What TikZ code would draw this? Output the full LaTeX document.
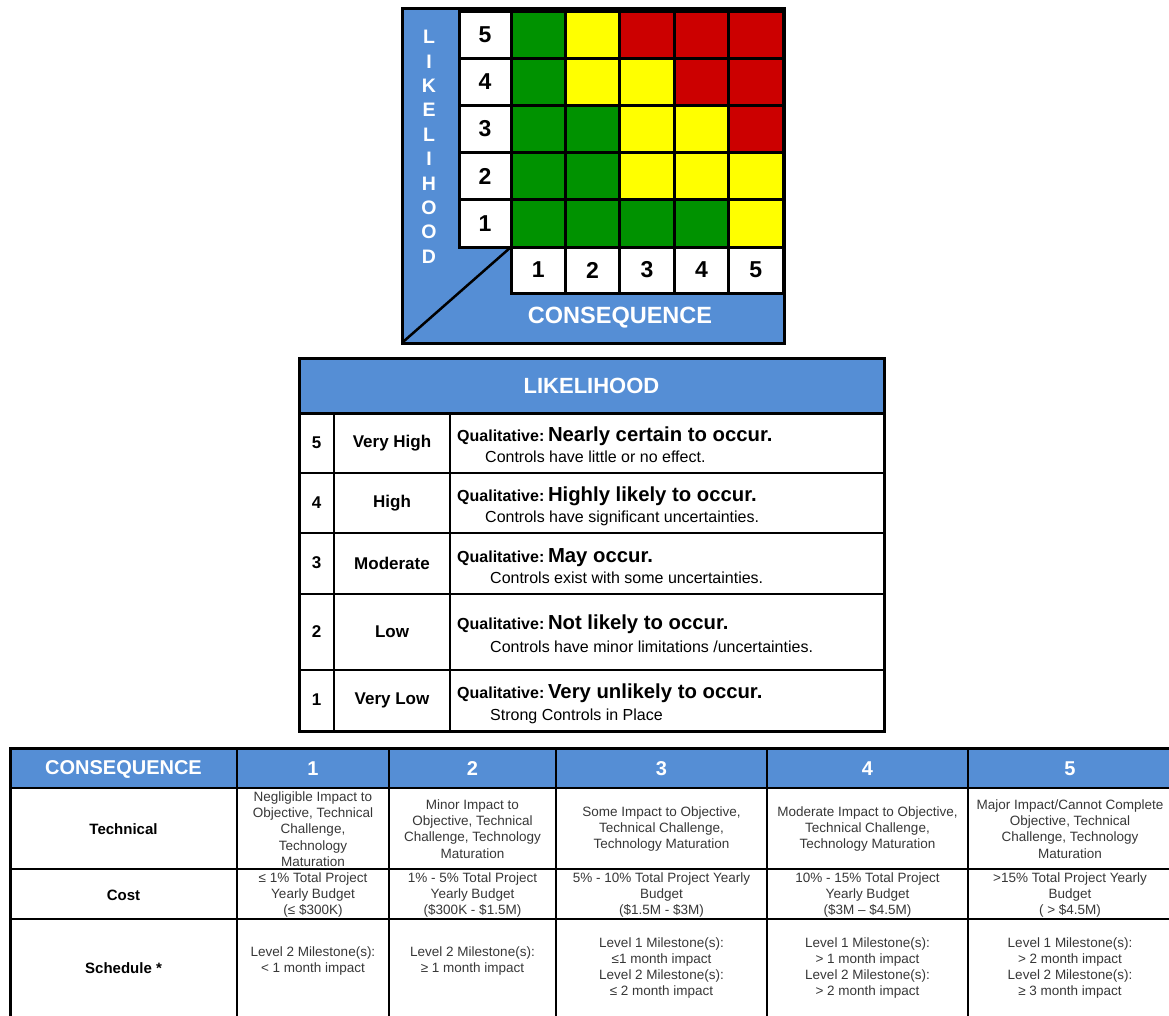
\documentclass[tikz,border=0pt]{standalone}
\usepackage{fontspec}
\setmainfont{Liberation Sans}
\definecolor{hdrblue}{RGB}{85,142,213}
\definecolor{rgreen}{RGB}{0,146,0}
\definecolor{ryellow}{RGB}{255,255,0}
\definecolor{rred}{RGB}{204,0,0}
\definecolor{celltext}{RGB}{55,55,55}
\begin{document}
\begin{tikzpicture}[x=1pt,y=-1pt,
  mxcell/.style={draw=black,line width=3pt,inner sep=0pt,outer sep=0pt},
  rownum/.style={mxcell,fill=white,minimum width=52pt,minimum height=47.2pt,font=\fontsize{23}{23}\selectfont\bfseries},
  colnum/.style={mxcell,fill=white,minimum width=54.4pt,minimum height=46pt,font=\fontsize{23}{23}\selectfont\bfseries},
  risk/.style={mxcell,minimum width=54.4pt,minimum height=47.2pt},
  vlet/.style={text=white,font=\fontsize{19.5}{19.5}\selectfont\bfseries,inner sep=0pt},
  hdr/.style={text=white,font=\fontsize{20}{20}\selectfont\bfseries,inner sep=0pt},
  lnum/.style={font=\fontsize{17}{17}\selectfont\bfseries,inner sep=0pt},
  qual/.style={anchor=base west,inner sep=0pt},
  qsub/.style={anchor=base west,inner sep=0pt,font=\fontsize{16}{16}\selectfont},
  rowlab/.style={font=\fontsize{15}{15}\selectfont\bfseries,inner sep=0pt},
  ctext/.style={align=center,font=\fontsize{13.5}{16.3}\selectfont,text=celltext,inner sep=0pt}]
\useasboundingbox (0,0) rectangle (1169,1015);

\draw[line width=3pt,fill=hdrblue] (402,8) rectangle (784,343);
\foreach \r in {1,...,5}
  \node[rownum] (lrow\r) at (485,{34.6+47.2*(5-\r)}) {\r};
\foreach \r/\cl in {5/{rgreen,ryellow,rred,rred,rred},4/{rgreen,ryellow,ryellow,rred,rred},
    3/{rgreen,rgreen,ryellow,ryellow,rred},2/{rgreen,rgreen,ryellow,ryellow,ryellow},
    1/{rgreen,rgreen,rgreen,rgreen,ryellow}}
  \foreach \fc [count=\c] in \cl
    \node[risk,fill=\fc] (m\r\c) at ({538.2+54.4*(\c-1)},{34.6+47.2*(5-\r)}) {};
\foreach \c in {1,...,5}
  \node[colnum] (ccol\c) at ({538.2+54.4*(\c-1)},270) {\c};
\foreach \l [count=\k] in {L,I,K,E,L,I,H,O,O,D}
  \node[vlet] (lk\k) at (429,{37+24.4*(\k-1)}) {\l};
\node[text=white,font=\fontsize{23.5}{23.5}\selectfont\bfseries] (mxcons) at (620,318) {CONSEQUENCE};
\coordinate (mxcorner) at (403.5,341.5);
\draw[line width=2.5pt] (mxcorner) -- (lrow1.south east);

\draw[line width=3pt,fill=hdrblue] (299,358) rectangle (884,413);
\draw[line width=3pt,fill=white] (299,413) rectangle (884,731);
\draw[line width=2pt] (299,473) -- (884,473) (299,533) -- (884,533) (299,594) -- (884,594)
  (299,670) -- (884,670) (334,413) -- (334,731) (450,413) -- (450,731);
\node[text=white,font=\fontsize{22}{22}\selectfont\bfseries] (lhead) at (591.5,386) {LIKELIHOOD};

\node[lnum] (ln5) at (316.5,443) {5};
\node[lnum] (lv5) at (392,443) {Very High};
\node[qual] (lq5) at (457,441) {{\fontsize{16}{16}\selectfont\bfseries Qualitative:} {\fontsize{20.3}{20.3}\selectfont\bfseries Nearly certain to occur.}};
\node[qsub] (ls5) at (485,462) {Controls have little or no effect.};
\node[lnum] (ln4) at (316.5,503) {4};
\node[lnum] (lv4) at (392,503) {High};
\node[qual] (lq4) at (457,501) {{\fontsize{16}{16}\selectfont\bfseries Qualitative:} {\fontsize{20.3}{20.3}\selectfont\bfseries Highly likely to occur.}};
\node[qsub] (ls4) at (485,522) {Controls have significant uncertainties.};
\node[lnum] (ln3) at (316.5,563) {3};
\node[lnum] (lv3) at (392,563) {Moderate};
\node[qual] (lq3) at (457,562) {{\fontsize{16}{16}\selectfont\bfseries Qualitative:} {\fontsize{20.3}{20.3}\selectfont\bfseries May occur.}};
\node[qsub] (ls3) at (490,583) {Controls exist with some uncertainties.};
\node[lnum] (ln2) at (316.5,632) {2};
\node[lnum] (lv2) at (392,632) {Low};
\node[qual] (lq2) at (457,629) {{\fontsize{16}{16}\selectfont\bfseries Qualitative:} {\fontsize{20.3}{20.3}\selectfont\bfseries Not likely to occur.}};
\node[qsub] (ls2) at (490,652) {Controls have minor limitations /uncertainties.};
\node[lnum] (ln1) at (316.5,700) {1};
\node[lnum] (lv1) at (392,700) {Very Low};
\node[qual] (lq1) at (457,698) {{\fontsize{16}{16}\selectfont\bfseries Qualitative:} {\fontsize{20.3}{20.3}\selectfont\bfseries Very unlikely to occur.}};
\node[qsub] (ls1) at (490,720) {Strong Controls in Place};

\fill[hdrblue] (10,748) rectangle (1172,788);
\draw[line width=1.5pt] (10,788) -- (1172,788) (10,869) -- (1172,869) (10,919) -- (1172,919);
\foreach \x in {237,389,556,767,968}
  \draw[line width=1.5pt] (\x,748) -- (\x,1030);
\draw[line width=3pt] (10,1030) |- (1172,748);
\node[hdr] (chead) at (123.5,769) {CONSEQUENCE};
\foreach \x [count=\c] in {313,472.5,661.5,867.5,1070}
  \node[hdr] (chn\c) at (\x,769) {\c};
\node[rowlab] (tech) at (123.5,829) {Technical};
\node[rowlab] (cost) at (123.5,895) {Cost};
\node[rowlab] (sched) at (123.5,968) {Schedule *};

\node[ctext] (t1) at (313,829) {Negligible Impact to\\Objective, Technical\\Challenge,\\Technology\\Maturation};
\node[ctext] (t2) at (472.5,829) {Minor Impact to\\Objective, Technical\\Challenge, Technology\\Maturation};
\node[ctext] (t3) at (661.5,829) {Some Impact to Objective,\\Technical Challenge,\\Technology Maturation};
\node[ctext] (t4) at (867.5,829) {Moderate Impact to Objective,\\Technical Challenge,\\Technology Maturation};
\node[ctext] (t5) at (1070,829) {Major Impact/Cannot Complete\\Objective, Technical\\Challenge, Technology\\Maturation};

\node[ctext] (k1) at (313,895) {≤ 1\% Total Project\\Yearly Budget\\(≤ \$300K)};
\node[ctext] (k2) at (472.5,895) {1\% - 5\% Total Project\\Yearly Budget\\(\$300K - \$1.5M)};
\node[ctext] (k3) at (661.5,895) {5\% - 10\% Total Project Yearly\\Budget\\(\$1.5M - \$3M)};
\node[ctext] (k4) at (867.5,895) {10\% - 15\% Total Project\\Yearly Budget\\(\$3M – \$4.5M)};
\node[ctext] (k5) at (1070,895) {>15\% Total Project Yearly\\Budget\\( > \$4.5M)};

\node[ctext] (s1) at (313,961) {Level 2 Milestone(s):\\< 1 month impact};
\node[ctext] (s2) at (472.5,961) {Level 2 Milestone(s):\\≥ 1 month impact};
\node[ctext] (s3) at (661.5,968) {Level 1 Milestone(s):\\≤1 month impact\\Level 2 Milestone(s):\\≤ 2 month impact};
\node[ctext] (s4) at (867.5,968) {Level 1 Milestone(s):\\> 1 month impact\\Level 2 Milestone(s):\\> 2 month impact};
\node[ctext] (s5) at (1070,968) {Level 1 Milestone(s):\\> 2 month impact\\Level 2 Milestone(s):\\≥ 3 month impact};
\end{tikzpicture}
\end{document}
